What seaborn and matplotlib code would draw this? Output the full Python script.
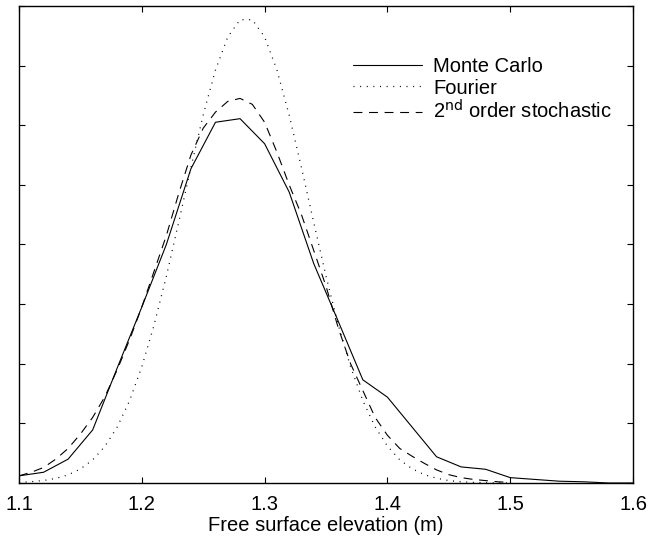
import numpy as np
import pandas as pd
import seaborn as sns
import matplotlib
matplotlib.use("Agg")
import matplotlib.pyplot as plt

# Monte Carlo (piecewise, every 0.02 m)
mc_x = [1.10, 1.12, 1.14, 1.16, 1.18, 1.20, 1.22, 1.24, 1.26, 1.28, 1.30, 1.32, 1.34,
        1.36, 1.38, 1.40, 1.42, 1.44, 1.46, 1.48, 1.50, 1.52, 1.54, 1.56, 1.58, 1.60]
mc_y = [0.12, 0.18, 0.40, 0.89, 1.93, 2.95, 4.00, 5.27, 6.05, 6.11, 5.69, 4.88, 3.68,
        2.71, 1.73, 1.44, 0.94, 0.44, 0.27, 0.23, 0.09, 0.06, 0.03, 0.02, 0.0, 0.0]

# Fourier and 2nd order stochastic (every 0.01 m)
x_fine = [1.10, 1.11, 1.12, 1.13, 1.14, 1.15, 1.16, 1.17, 1.18, 1.19, 1.20, 1.21, 1.22,
          1.23, 1.24, 1.25, 1.26, 1.27, 1.28, 1.29, 1.30, 1.31, 1.32, 1.33, 1.34, 1.35,
          1.36, 1.37, 1.38, 1.39, 1.40, 1.41, 1.42, 1.43, 1.44, 1.45, 1.46, 1.47, 1.48,
          1.49, 1.50]
fourier_y = [0.011, 0.022, 0.042, 0.077, 0.137, 0.235, 0.387, 0.615, 0.939, 1.378, 1.948,
             2.649, 3.467, 4.368, 5.293, 6.172, 6.927, 7.48, 7.77, 7.77, 7.48, 6.93, 6.17,
             5.29, 4.37, 3.47, 2.65, 1.95, 1.38, 0.94, 0.62, 0.39, 0.24, 0.14, 0.08, 0.04,
             0.02, 0.01, 0.005, 0.002, 0.0]
stoch_y = [0.12, 0.18, 0.26, 0.40, 0.58, 0.82, 1.10, 1.45, 1.90, 2.40, 2.95, 3.55, 4.15,
           4.85, 5.50, 5.95, 6.22, 6.40, 6.45, 6.35, 6.05, 5.55, 5.00, 4.50, 3.90, 3.30,
           2.60, 2.00, 1.55, 1.10, 0.80, 0.58, 0.45, 0.33, 0.22, 0.14, 0.09, 0.06, 0.04,
           0.02, 0.01]

xticks = [1.1, 1.2, 1.3, 1.4, 1.5, 1.6]
xtick_labels = ["1.1", "1.2", "1.3", "1.4", "1.5", "1.6"]

sns.set_style("ticks")
plt.rcParams['font.family'] = ['Liberation Sans', 'DejaVu Sans']
plt.rcParams['text.color'] = 'black'
plt.rcParams['xtick.color'] = 'black'
plt.rcParams['ytick.color'] = 'black'
plt.rcParams['axes.labelcolor'] = 'black'

fig = plt.figure(figsize=(6.48, 5.43), dpi=100)
ax = fig.add_axes([0.0293, 0.1105, 0.9476, 0.8785])

mc = pd.DataFrame({'x': mc_x, 'y': mc_y})
fine = pd.DataFrame({'x': x_fine, 'fourier': fourier_y, 'stoch': stoch_y})

sns.lineplot(data=mc, x='x', y='y', ax=ax, color='black', linewidth=0.8,
             label='Monte Carlo')
sns.lineplot(data=fine, x='x', y='fourier', ax=ax, color='black', linewidth=0.9,
             linestyle=(0, (0.8, 4.5)), label='Fourier')
sns.lineplot(data=fine, x='x', y='stoch', ax=ax, color='black', linewidth=0.8,
             linestyle=(0, (8, 6)), label=r'2$^{\mathrm{nd}}$ order stochastic')

ax.set_xlim(1.1, 1.6)
ax.set_ylim(0, 8)
ax.set_xticks(xticks)
ax.set_xticklabels(xtick_labels)
ax.set_yticks(np.arange(0, 9, 1))
ax.set_yticklabels([])
ax.tick_params(direction='in', length=4.5, width=0.8, top=True, right=True,
               labelsize=14.5, pad=9)
for s in ax.spines.values():
    s.set_linewidth(1.0)
    s.set_color('black')
ax.set_xlabel('Free surface elevation (m)', fontsize=14.5, labelpad=1)
ax.set_ylabel('')

leg = ax.legend(loc='upper right', bbox_to_anchor=(0.995, 0.93), frameon=False,
                fontsize=14.5, handlelength=3.4, handletextpad=0.55, labelspacing=0.1)

fig.savefig('out.png', dpi=100)
